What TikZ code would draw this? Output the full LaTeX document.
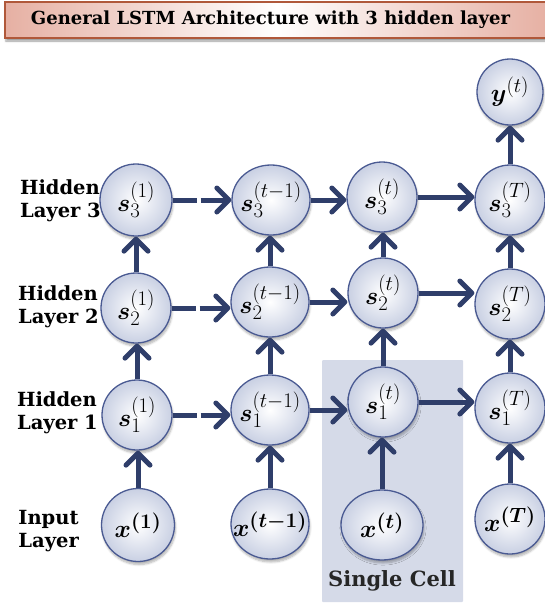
\documentclass[tikz,border=0pt]{standalone}
\usepackage[no-math]{fontspec}
\setmainfont{DejaVu Serif}
\usepackage{bm}
\usetikzlibrary{arrows.meta,shapes.geometric,shadows.blur}

\definecolor{linkc}{HTML}{2F3E6A}
\definecolor{ringc}{HTML}{4A5A92}
\definecolor{ballc}{HTML}{C9D0E3}
\definecolor{cellbg}{HTML}{D5DAE8}
\definecolor{titleedge}{HTML}{B0583A}
\definecolor{titlefill}{HTML}{E6B0A3}

% node labels are set in a zero-width box so each shape keeps its own size
\newcommand{\unitmath}[1]{\makebox[0pt][c]{$#1$}}

\tikzset{
  unit/.style={circle, draw=ringc, line width=1.3pt, minimum size=70pt, inner sep=0pt,
    shading=radial, inner color=white, outer color=ballc,
    blur shadow={shadow xshift=1pt, shadow yshift=-3pt, shadow blur steps=6, shadow opacity=30},
    font=\fontsize{30}{34}\selectfont},
  wideunit/.style={unit, ellipse, minimum width=78pt, minimum height=70pt},
  link/.style={draw=linkc, line width=5pt,
    -{Straight Barb[length=12pt, width=24pt, round]}},
  gaplink/.style={link, dash pattern=on 24pt off 4pt on 300pt},
  layerlabel/.style={align=left, font=\bfseries\fontsize{19.5}{23}\selectfont, inner sep=0pt, anchor=east}
}

\begin{document}
\begin{tikzpicture}[x=1pt, y=-1pt]
  \useasboundingbox (0,0) rectangle (545,605);

  % title banner
  \node (title) [draw=titleedge, line width=1.2pt, minimum width=543pt, minimum height=36pt,
    left color=titlefill, right color=titlefill, middle color=white,
    blur shadow={shadow xshift=1pt, shadow yshift=-3pt, shadow opacity=40},
    font=\bfseries\fontsize{18}{21}\selectfont] at (276.5,20)
    {\hspace*{-12pt}General LSTM Architecture with 3 hidden layer};

  % single cell highlight
  \node (cell) [fill=cellbg, rounded corners=1pt, minimum width=141pt, minimum height=242pt,
    inner sep=0pt] at (392.5,481) {};
  \node (celltext) [font=\bfseries\fontsize{21}{25}\selectfont, text=black!85] at (392,581) {Single Cell};

  % layer labels
  \node (lab3) [layerlabel] at (101,201) {Hidden\\Layer 3};
  \node (lab2) [layerlabel] at (99,307) {Hidden\\Layer 2};
  \node (lab1) [layerlabel] at (98,413) {Hidden\\Layer 1};
  \node (labin) [layerlabel] at (79,531) {Input\\Layer};

  % output
  \node (y) [unit, minimum size=66pt] at (510,92) {\unitmath{\bm{y}^{(t)}}};

  % hidden layer 3
  \node (s31) [unit, minimum size=72pt] at (136,200) {\unitmath{\bm{s}_3^{(1)}}};
  \node (s3a) [wideunit] at (271,200) {\unitmath{\bm{s}_3^{(t-1)}}};
  \node (s3t) [unit] at (382,197) {\unitmath{\bm{s}_3^{(t)}}};
  \node (s3T) [unit] at (510,200) {\unitmath{\bm{s}_3^{(T)}}};

  % hidden layer 2
  \node (s21) [unit] at (136,308) {\unitmath{\bm{s}_2^{(1)}}};
  \node (s2a) [wideunit] at (270,302) {\unitmath{\bm{s}_2^{(t-1)}}};
  \node (s2t) [unit] at (383,293) {\unitmath{\bm{s}_2^{(t)}}};
  \node (s2T) [unit] at (510,304) {\unitmath{\bm{s}_2^{(T)}}};

  % hidden layer 1
  \node (s11) [unit] at (137,415) {\unitmath{\bm{s}_1^{(1)}}};
  \node (s1a) [wideunit] at (270,410) {\unitmath{\bm{s}_1^{(t-1)}}};
  \node (s1t) [unit] at (383,402) {\unitmath{\bm{s}_1^{(t)}}};
  \node (s1T) [unit] at (510,408) {\unitmath{\bm{s}_1^{(T)}}};

  % input layer
  \node (x1) [unit, minimum width=73pt] at (138,525) {\unitmath{\bm{x}^{\bm{(1)}}}};
  \node (xa) [wideunit] at (270,524) {\unitmath{\bm{x}^{\bm{(t-1)}}}};
  \node (xt) [wideunit, minimum width=82pt] at (382,525) {\unitmath{\bm{x}^{\bm{(t)}}}};
  \node (xT) [unit] at (510,519) {\unitmath{\bm{x}^{\bm{(T)}}}};

  % upward connections
  \foreach \lo/\hi in {x1/s11, s11/s21, s21/s31,
                       xa/s1a, s1a/s2a, s2a/s3a,
                       xt/s1t, s1t/s2t, s2t/s3t,
                       xT/s1T, s1T/s2T, s2T/s3T, s3T/y}
    \draw[link] (\lo.north) -- (\lo.north |- \hi.south);

  % recurrent connections across time
  \draw[gaplink] (s31.east) -- (s31.east -| s3a.west);
  \draw[gaplink] (s21.east) -- (s21.east -| s2a.west);
  \draw[gaplink] (s11.east) -- (s11.east -| s1a.west);
  \draw[link] (s3a.east) -- (s3a.east -| s3t.west);
  \draw[link] (s2a.east) -- (s2a.east -| s2t.west);
  \draw[link] (s1a.east) -- (s1a.east -| s1t.west);
  \draw[link] (s3t.east) -- (s3t.east -| s3T.west);
  \draw[link] (s2t.east) -- (s2t.east -| s2T.west);
  \draw[link] (s1t.east) -- (s1t.east -| s1T.west);
\end{tikzpicture}
\end{document}
